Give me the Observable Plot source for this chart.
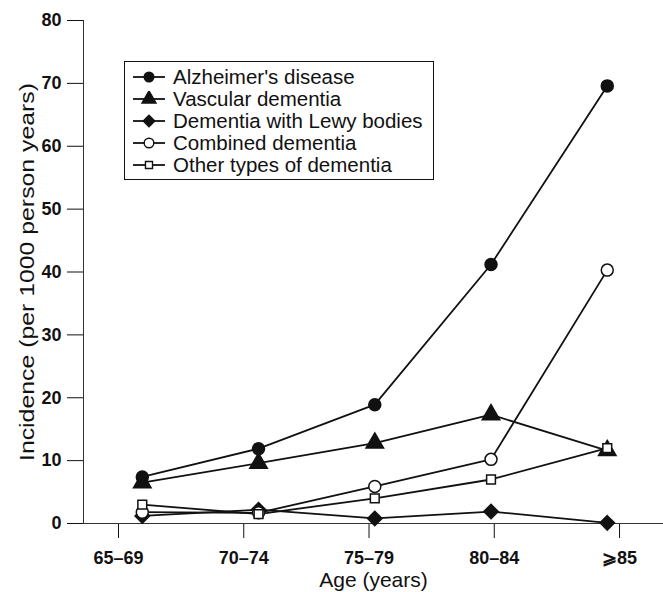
<!DOCTYPE html>
<html>
<head>
<meta charset="utf-8">
<script src="https://cdn.jsdelivr.net/npm/d3@7"></script>
<script src="https://cdn.jsdelivr.net/npm/@observablehq/plot@0.6"></script>
<style>
  html, body { margin: 0; padding: 0; background: #fff; }
  #wrap { position: relative; width: 663px; height: 592px; font-family: "Liberation Sans", Arial, Helvetica, sans-serif; }
  #legend { position: absolute; left: 124px; top: 61px; width: 310px; height: 119px; border: 1.5px solid #111; background: #fff; box-sizing: border-box; padding-top: 4px; }
  .row { display: flex; align-items: center; height: 22px; font-size: 20.5px; color: #111; white-space: nowrap; }
  .row svg { margin-left: 8px; margin-right: 8px; flex: none; }
</style>
</head>
<body>
<div id="wrap"></div>
<script>
// ---- data ----
const ageGroups = ["65–69", "70–74", "75–79", "80–84", "⩾85"];
const seriesNames = ["Alzheimer's disease", "Vascular dementia", "Dementia with Lewy bodies", "Combined dementia", "Other types of dementia"];
const alzheimer = [7.4, 11.9, 18.9, 41.2, 69.6];
const vascular  = [6.5, 9.6, 12.8, 17.3, 11.6];
const lewy      = [1.2, 2.2, 0.8, 1.9, 0.1];
const combined  = [1.8, 1.7, 5.9, 10.2, 40.3];
const other     = [3.0, 1.5, 4.0, 7.0, 12.0];
const yTicks = [0, 10, 20, 30, 40, 50, 60, 70, 80];

// ---- layout (points are drawn slightly offset from the category ticks, as in the original) ----
const POINT_START = 0.19, POINT_STEP = 0.928;
const pos = i => POINT_START + POINT_STEP * i;

const styles = [
  {symbol: "circle", fill: "#111", r: 6},
  {symbol: "triangle", fill: "#111", r: 6.5},
  {symbol: "diamond2", fill: "#111", r: 6.5},
  {symbol: "circle", fill: "#fff", r: 6},
  {symbol: "square2", fill: "#fff", r: 5.6}
];
const allSeries = [alzheimer, vascular, lewy, combined, other];
const rows = [];
allSeries.forEach((vals, s) => vals.forEach((v, i) => rows.push({s, name: seriesNames[s], i, x: pos(i), y: v})));

const font = "'Liberation Sans', Arial, Helvetica, sans-serif";

const chart = Plot.plot({
  width: 663,
  height: 592,
  marginLeft: 83,
  marginRight: 0,
  marginTop: 20,
  marginBottom: 69,
  style: {fontFamily: font, color: "#111", background: "#fff"},
  x: {domain: [-0.2794, 4.351], axis: null},
  y: {domain: [0, 80], axis: null},
  marks: [
    Plot.axisY({ticks: yTicks, tickSize: 16, tickPadding: 6, fontSize: 18, fontWeight: "bold",
      label: "Incidence (per 1000 person years)", labelAnchor: "center", labelOffset: 64, labelArrow: false}),
    Plot.axisX({ticks: d3.range(ageGroups.length), tickFormat: i => ageGroups[i], tickSize: 15, tickPadding: 13,
      fontSize: 18, fontWeight: "bold", label: "Age (years)", labelAnchor: "center", labelOffset: 63, labelArrow: false}),
    Plot.frame({anchor: "left", stroke: "#333"}),
    Plot.frame({anchor: "bottom", stroke: "#333"}),
    ...allSeries.map((vals, s) => Plot.line(rows.filter(d => d.s === s), {x: "x", y: "y", stroke: "#111", strokeWidth: 1.8})),
    ...allSeries.map((vals, s) => Plot.dot(rows.filter(d => d.s === s), {x: "x", y: "y", symbol: () => styles[s].symbol,
      r: styles[s].r, fill: styles[s].fill, stroke: "#111", strokeWidth: 1.5}))
  ]
});
chart.querySelectorAll('[aria-label="y-axis label"] text, [aria-label="x-axis label"] text').forEach(t => {
  t.setAttribute("font-size", "21"); t.setAttribute("font-weight", "normal"); t.style.fontSize = "21px"; t.style.fontWeight = "normal";
});
// the original's y title is drawn taller (stretched) than its x title
chart.querySelectorAll('[aria-label="y-axis label"] text').forEach(t => {
  t.setAttribute("textLength", "378"); t.setAttribute("lengthAdjust", "spacingAndGlyphs");
});
const wrap = document.getElementById("wrap");
wrap.appendChild(chart);

// ---- legend ----
const legend = document.createElement("div");
legend.id = "legend";
seriesNames.forEach((name, s) => {
  const row = document.createElement("div");
  row.className = "row";
  const sym = d3.create("svg").attr("width", 32).attr("height", 16);
  sym.append("line").attr("x1", 0).attr("x2", 32).attr("y1", 8).attr("y2", 8).attr("stroke", "#111").attr("stroke-width", 1.8);
  const symType = {circle: d3.symbolCircle, triangle: d3.symbolTriangle, diamond2: d3.symbolDiamond2, square2: d3.symbolSquare2}[styles[s].symbol];
  const size = Math.PI * Math.pow(styles[s].r * 0.8, 2);
  sym.append("path").attr("d", d3.symbol(symType, size)()).attr("transform", "translate(16,8)")
    .attr("fill", styles[s].fill).attr("stroke", "#111").attr("stroke-width", 1.4);
  row.appendChild(sym.node());
  const label = document.createElement("span");
  label.textContent = name;
  row.appendChild(label);
  legend.appendChild(row);
});
wrap.appendChild(legend);
</script>
</body>
</html>
